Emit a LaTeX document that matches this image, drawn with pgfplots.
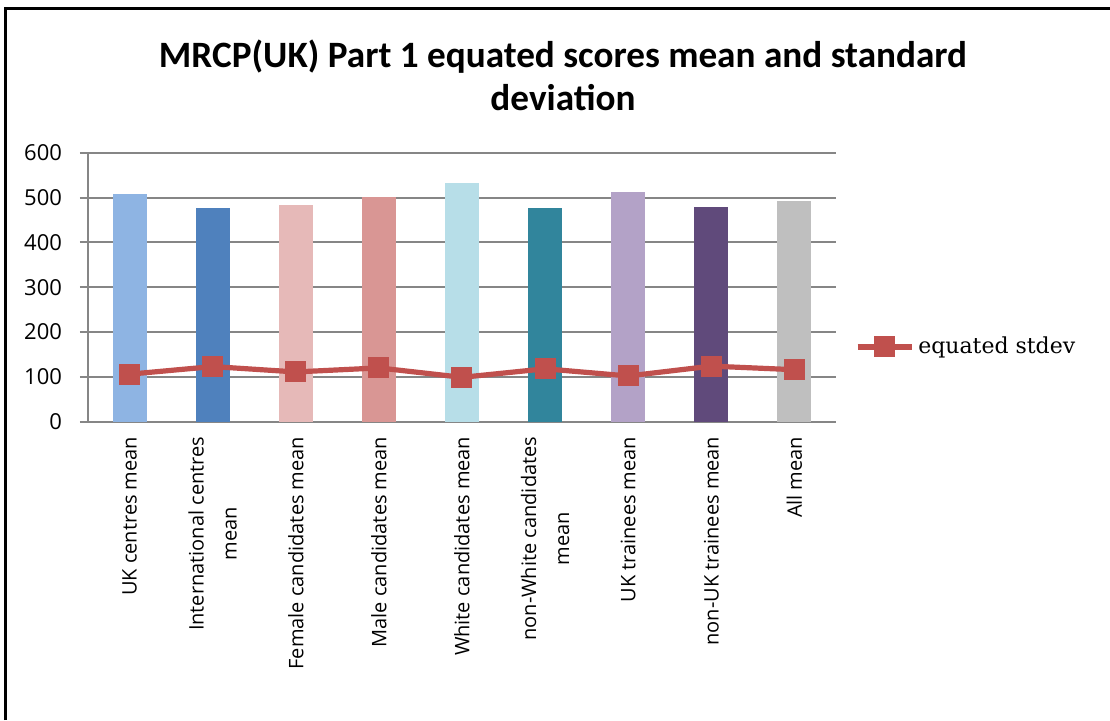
\documentclass[border=0pt]{standalone}
\usepackage{fontspec}
\setmainfont{Open Sans}
\newfontfamily\titlefont{Carlito}
\newfontfamily\legfont{DejaVu Serif}
\usepackage{pgfplots}
\pgfplotsset{compat=1.18}
\definecolor{gridgray}{HTML}{868686}
\definecolor{cA}{HTML}{8EB4E3}
\definecolor{cB}{HTML}{4F81BD}
\definecolor{cC}{HTML}{E6B9B8}
\definecolor{cD}{HTML}{D99694}
\definecolor{cE}{HTML}{B7DEE8}
\definecolor{cF}{HTML}{31859C}
\definecolor{cG}{HTML}{B3A2C7}
\definecolor{cH}{HTML}{604A7B}
\definecolor{cI}{HTML}{BFBFBF}
\definecolor{lineRed}{HTML}{C0504D}
\begin{document}
\begin{tikzpicture}
\path[use as bounding box] (0,0) rectangle (555pt,360pt);
\draw[line width=1.5pt,black] (2.5pt,0pt) -- (2.5pt,356pt) -- (555pt,356pt);
\node[align=center,font=\titlefont\bfseries\fontsize{18.6}{21.5}\selectfont] at (281.5pt,322.5pt)
  {MRCP(UK) Part 1 equated scores mean and standard\\deviation};
\begin{axis}[
  at={(44pt,149.15pt)}, anchor=south west,
  scale only axis, width=374pt, height=134.5pt,
  xmin=-0.5, xmax=8.5, ymin=0, ymax=600,
  ytick={0,100,...,600},
  xtick={0,...,8},
  xticklabels={{UK centres mean},{International centres\\mean},{Female candidates mean},{Male candidates mean},{White candidates mean},{non-White candidates\\mean},{UK trainees mean},{non-UK trainees mean},{All mean}},
  xticklabel style={rotate=90, anchor=east, align=center, font=\fontsize{10}{16.5}\selectfont},
  yticklabel style={font=\fontsize{11}{13}\selectfont, xshift=-5.5pt},
  /pgf/number format/assume math mode=true,
  axis lines*=left,
  axis line style={gridgray, line width=1pt},
  ymajorgrids, grid style={gridgray, line width=1pt},
  major x tick style={draw=none},
  major y tick style={gridgray, line width=1pt},
  tick align=outside, major tick length=4pt,
  enlargelimits=false, clip=false,
  legend style={at={(rel axis cs:1.025,0.278)}, anchor=west, draw=none, fill=none,
    font=\legfont\fontsize{11}{13}\selectfont, inner sep=0pt},
  legend cell align=left,
  legend image code/.code={\draw[mark repeat=2,mark phase=2,#1] plot coordinates {(0pt,0pt) (13.5pt,0pt) (27pt,0pt)};},
]
\addplot[ybar, bar width=17pt, bar shift=0pt, fill=cA, draw=none, forget plot] coordinates {(0,508)};
\addplot[ybar, bar width=17pt, bar shift=0pt, fill=cB, draw=none, forget plot] coordinates {(1,477)};
\addplot[ybar, bar width=17pt, bar shift=0pt, fill=cC, draw=none, forget plot] coordinates {(2,483)};
\addplot[ybar, bar width=17pt, bar shift=0pt, fill=cD, draw=none, forget plot] coordinates {(3,502)};
\addplot[ybar, bar width=17pt, bar shift=0pt, fill=cE, draw=none, forget plot] coordinates {(4,533)};
\addplot[ybar, bar width=17pt, bar shift=0pt, fill=cF, draw=none, forget plot] coordinates {(5,477)};
\addplot[ybar, bar width=17pt, bar shift=0pt, fill=cG, draw=none, forget plot] coordinates {(6,513)};
\addplot[ybar, bar width=17pt, bar shift=0pt, fill=cH, draw=none, forget plot] coordinates {(7,479)};
\addplot[ybar, bar width=17pt, bar shift=0pt, fill=cI, draw=none, forget plot] coordinates {(8,492)};
\addplot[lineRed, line width=2.6pt, mark=square*, mark size=5pt,
  mark options={fill=lineRed, draw=lineRed, line width=0.5pt}]
  coordinates {(0,106) (1,123) (2,111) (3,120) (4,99) (5,118) (6,102) (7,124) (8,116)};
\addlegendentry{equated stdev}
\end{axis}
\end{tikzpicture}
\end{document}
